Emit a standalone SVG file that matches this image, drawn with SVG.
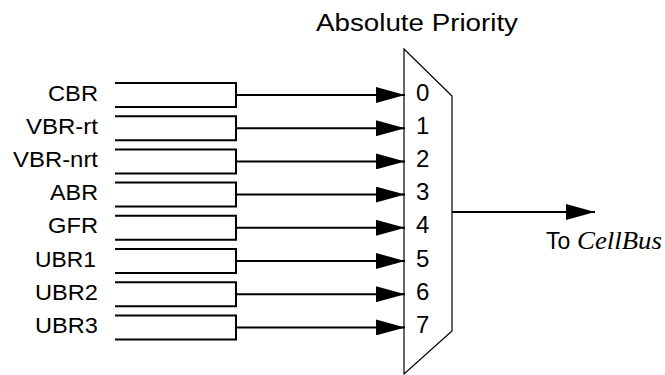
<svg xmlns="http://www.w3.org/2000/svg" width="665" height="375" viewBox="0 0 665 375">
<defs>
<marker id="ah" markerWidth="29" markerHeight="16" refX="29" refY="8" orient="auto" markerUnits="userSpaceOnUse">
<path d="M0,0 L29,8 L0,16 Z" fill="#000"/>
</marker>
<style>
.lbl{font-family:"Liberation Sans",Arial,sans-serif;font-size:22px;fill:#000;text-anchor:end}
.num{font-family:"Liberation Sans",Arial,sans-serif;font-size:24px;fill:#000}
.q{fill:none;stroke:#000;stroke-width:2}
.conn{fill:none;stroke:#000;stroke-width:2}
.mux{fill:#fff;stroke:#000;stroke-width:1.2}
</style>
</defs>
<rect width="665" height="375" fill="#fff"/>
<text x="417" y="31" font-family="'Liberation Sans',Arial,sans-serif" font-size="23" text-anchor="middle" textLength="202" lengthAdjust="spacingAndGlyphs">Absolute Priority</text>

<g id="q-cbr"><path class="q" d="M115,83 H236 V107 H115"/><text class="lbl" x="98" y="100.5" textLength="50" lengthAdjust="spacingAndGlyphs">CBR</text></g>
<g id="q-vbrrt"><path class="q" d="M115,116.2 H236 V140.2 H115"/><text class="lbl" x="98" y="133.7" textLength="72" lengthAdjust="spacingAndGlyphs">VBR-rt</text></g>
<g id="q-vbrnrt"><path class="q" d="M115,149.4 H236 V173.4 H115"/><text class="lbl" x="98" y="166.9" textLength="85" lengthAdjust="spacingAndGlyphs">VBR-nrt</text></g>
<g id="q-abr"><path class="q" d="M115,182.6 H236 V206.6 H115"/><text class="lbl" x="98" y="200.1" textLength="48" lengthAdjust="spacingAndGlyphs">ABR</text></g>
<g id="q-gfr"><path class="q" d="M115,215.8 H236 V239.8 H115"/><text class="lbl" x="98" y="233.3" textLength="50" lengthAdjust="spacingAndGlyphs">GFR</text></g>
<g id="q-ubr1"><path class="q" d="M115,249 H236 V273 H115"/><text class="lbl" x="96" y="266.5" textLength="61" lengthAdjust="spacingAndGlyphs">UBR1</text></g>
<g id="q-ubr2"><path class="q" d="M115,282.2 H236 V306.2 H115"/><text class="lbl" x="98" y="299.7" textLength="63" lengthAdjust="spacingAndGlyphs">UBR2</text></g>
<g id="q-ubr3"><path class="q" d="M115,315.4 H236 V339.4 H115"/><text class="lbl" x="98" y="332.9" textLength="63" lengthAdjust="spacingAndGlyphs">UBR3</text></g>

<g id="mux">
<path class="mux" d="M404,49 L452,96 L452,331 L404,374 Z"/>
<text class="num" x="416" y="100.5">0</text>
<text class="num" x="416" y="133.7">1</text>
<text class="num" x="416" y="166.9">2</text>
<text class="num" x="416" y="200.1">3</text>
<text class="num" x="416" y="233.3">4</text>
<text class="num" x="416" y="266.5">5</text>
<text class="num" x="416" y="299.7">6</text>
<text class="num" x="416" y="332.9">7</text>
</g>

<g id="connectors">
<line class="conn" x1="236" y1="95" x2="405" y2="95" marker-end="url(#ah)"/>
<line class="conn" x1="236" y1="128.2" x2="405" y2="128.2" marker-end="url(#ah)"/>
<line class="conn" x1="236" y1="161.4" x2="405" y2="161.4" marker-end="url(#ah)"/>
<line class="conn" x1="236" y1="194.6" x2="405" y2="194.6" marker-end="url(#ah)"/>
<line class="conn" x1="236" y1="227.8" x2="405" y2="227.8" marker-end="url(#ah)"/>
<line class="conn" x1="236" y1="261" x2="405" y2="261" marker-end="url(#ah)"/>
<line class="conn" x1="236" y1="294.2" x2="405" y2="294.2" marker-end="url(#ah)"/>
<line class="conn" x1="236" y1="327.4" x2="405" y2="327.4" marker-end="url(#ah)"/>
<line class="conn" x1="452" y1="212" x2="595" y2="212" marker-end="url(#ah)"/>
</g>

<g id="out-label">
<text x="546" y="249" font-family="'Liberation Sans',Arial,sans-serif" font-size="23">To</text>
<text x="577" y="249" font-family="'Liberation Serif','Times New Roman',serif" font-style="italic" font-size="25" textLength="85" lengthAdjust="spacingAndGlyphs">CellBus</text>
</g>
</svg>
